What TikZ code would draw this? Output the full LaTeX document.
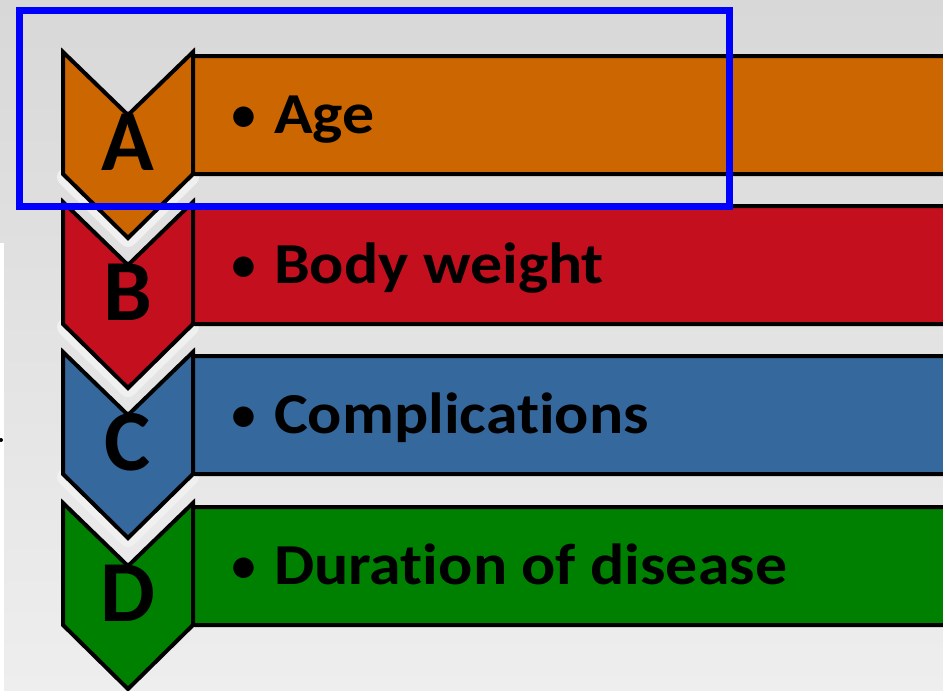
\documentclass[tikz,border=0pt]{standalone}
\usepackage{fontspec}
\setmainfont{Carlito}[Ligatures=NoCommon]
\newfontfamily\itemfont{Carlito}[FakeStretch=1.1, Ligatures=NoCommon]
\usetikzlibrary{backgrounds}
\definecolor{bgtop}{HTML}{D8D8D8}
\definecolor{bgbot}{HTML}{EEEEEE}
\definecolor{rowA}{HTML}{CC6600}
\definecolor{rowB}{HTML}{C40F1E}
\definecolor{rowC}{HTML}{35689C}
\definecolor{rowD}{HTML}{008000}
\definecolor{halo}{HTML}{F0F0F0}
\tikzstyle{bar}=[draw=black, line width=4pt, rounded corners=5pt]
\tikzstyle{chev}=[draw=black, line width=4pt, line join=miter]
\tikzstyle{chevhalo}=[draw=halo, line width=18pt, line join=round, line cap=round]
\tikzstyle{letter}=[anchor=base, inner sep=0pt, font=\fontsize{87}{87}\selectfont\bfseries]
\tikzstyle{item}=[anchor=base west, inner sep=0pt, font=\itemfont\fontsize{58}{58}\selectfont\bfseries]
\newcommand{\chevpath}[1]{(63,#1) -- (128,#1+63) -- (193,#1) -- (193,#1+122) -- (128,#1+186) -- (63,#1+122) -- cycle}
\newcommand{\tippath}[1]{(66,#1+125) -- (128,#1+186) -- (190,#1+125)}
\newcommand{\dotmark}{\makebox[45pt][l]{\normalfont\fontsize{58}{58}\selectfont\textbullet}}

\begin{document}
\begin{tikzpicture}[x=1pt, y=-1pt]
		\useasboundingbox (0,0) rectangle (943,691);
		\begin{scope}[on background layer]
		\fill[top color=bgtop, bottom color=bgbot] (0,0) rectangle (943,691);
		\fill[white] (0,243) rectangle (4,691);
		\fill[black] (1,440) circle (2);
		\end{scope}
		
		% light rims under the arrow tips
		\draw[chevhalo] \tippath{52};
		\draw[chevhalo] \tippath{202};
		\draw[chevhalo] \tippath{352};
		
		% bars
		\draw[bar, fill=rowA] (190,56) rectangle (948,174);
		\draw[bar, fill=rowB] (190,206) rectangle (948,324);
		\draw[bar, fill=rowC] (190,356) rectangle (948,474);
		\draw[bar, fill=rowD] (190,507) rectangle (948,625);
		
		% arrows
		\draw[chev, fill=rowA] \chevpath{52};
		\draw[chev, fill=rowB] \chevpath{202};
		\draw[chev, fill=rowC] \chevpath{352};
		\draw[chev, fill=rowD] \chevpath{503};
		
		\node(la) [letter] at (128,170) {A};
		\node(lb) [letter] at (128,320) {B};
		\node(lc) [letter] at (128,470) {C};
		\node(ld) [letter] at (128,621) {D};
		
		\node(age) [item] at (229,133) {\dotmark Age};
		\node(weight) [item] at (229,283) {\dotmark Body weight};
		\node(compl) [item] at (229,433) {\dotmark Complications};
		\node(dur) [item] at (229,584) {\dotmark Duration of disease};
		
		\draw[blue, line width=7pt] (19,10) rectangle (729,206);
		\end{tikzpicture}
\end{document}
